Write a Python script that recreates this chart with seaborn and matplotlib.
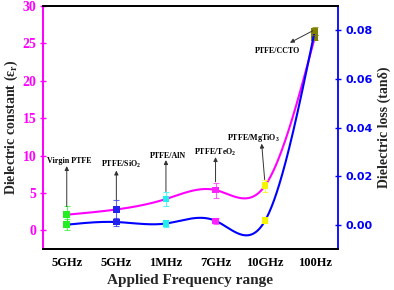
import numpy as np
import pandas as pd
import matplotlib
matplotlib.use("Agg")
import matplotlib.pyplot as plt
import seaborn as sns

sns.set_style("white")
plt.rcParams['font.family'] = ['Liberation Serif', 'DejaVu Serif']
plt.rcParams['font.weight'] = 'bold'
plt.rcParams['mathtext.fontset'] = 'custom'
plt.rcParams['mathtext.rm'] = 'Liberation Serif:bold'
plt.rcParams['mathtext.it'] = 'Liberation Serif:italic:bold'
plt.rcParams['mathtext.default'] = 'regular'

# ---- data ----
freq_labels = ["5GHz", "5GHz", "1MHz", "7GHz", "10GHz", "100Hz"]
materials = ["Virgin PTFE", "PTFE/SiO$_2$", "PTFE/AlN", "PTFE/TeO$_2$",
             "PTFE/MgTiO$_3$", "PTFE/CCTO"]
eps_r = [2.1, 2.8, 4.2, 5.4, 6.0, 25.8]
eps_err = [1.1, 1.3, 1.0, 1.0, 0.8, 0.4]
tan_d = [0.0002, 0.0013, 0.0007, 0.0018, 0.0019, 0.0796]
tan_err = [0.0022, 0.0018, 0.0014, 0.0012, 0.0012, 0.0016]
marker_colors = ["#22ee22", "#2222ee", "#22eeee", "#ff22ff", "#f5f500", "#808000"]

x = np.arange(len(freq_labels))
df = pd.DataFrame({"x": x, "eps": eps_r, "tan": tan_d, "mat": materials})


def natural_spline(xk, yk, n=300):
    xk = np.asarray(xk, float)
    yk = np.asarray(yk, float)
    m = len(xk)
    h = np.diff(xk)
    A = np.zeros((m, m))
    b = np.zeros(m)
    A[0, 0] = A[-1, -1] = 1
    for i in range(1, m - 1):
        A[i, i - 1] = h[i - 1]
        A[i, i] = 2 * (h[i - 1] + h[i])
        A[i, i + 1] = h[i]
        b[i] = 6 * ((yk[i + 1] - yk[i]) / h[i] - (yk[i] - yk[i - 1]) / h[i - 1])
    M = np.linalg.solve(A, b)
    xs = np.linspace(xk[0], xk[-1], n)
    idx = np.clip(np.searchsorted(xk, xs) - 1, 0, m - 2)
    x0, x1 = xk[idx], xk[idx + 1]
    hh = x1 - x0
    ys = (M[idx] * (x1 - xs) ** 3 / (6 * hh) + M[idx + 1] * (xs - x0) ** 3 / (6 * hh)
          + (yk[idx] / hh - M[idx] * hh / 6) * (x1 - xs)
          + (yk[idx + 1] / hh - M[idx + 1] * hh / 6) * (xs - x0))
    return xs, ys


fig = plt.figure(figsize=(3.94, 2.90), dpi=100)
ax = fig.add_axes([0.109, 0.141, 0.749, 0.838])
ax2 = ax.twinx()

MAG = "#ff00ff"
BLU = "#0000ff"

# dielectric constant
xs, ys = natural_spline(x, eps_r)
ax.plot(xs, ys, color=MAG, lw=1.5, zorder=2)
for i in range(len(x)):
    ax.errorbar(x[i], eps_r[i], yerr=eps_err[i], fmt='none', ecolor=marker_colors[i],
                elinewidth=0.8, capsize=2.5, capthick=0.8, alpha=0.7, zorder=3)
sns.scatterplot(data=df, x="x", y="eps", hue="mat", palette=marker_colors, marker="s",
                s=22, edgecolor="none", legend=False, ax=ax, zorder=4)

# dielectric loss
xs2, ys2 = natural_spline(x, tan_d)
ax2.plot(xs2, ys2, color=BLU, lw=1.5, zorder=2)
for i in range(len(x)):
    ax2.errorbar(x[i], tan_d[i], yerr=tan_err[i], fmt='none', ecolor=marker_colors[i],
                 elinewidth=0.8, capsize=2.5, capthick=0.8, alpha=0.7, zorder=3)
sns.scatterplot(data=df, x="x", y="tan", hue="mat", palette=marker_colors, marker="s",
                s=22, edgecolor="none", legend=False, ax=ax2, zorder=4)

ax.set_xlim(-0.48, 5.47)
ax.set_ylim(-2.5, 30)
ax2.set_ylim(-0.0098, 0.0898)
ax.set_xticks(x)
ax.set_xticklabels(freq_labels, fontsize=9, fontweight='bold')
ax.set_yticks([0, 5, 10, 15, 20, 25, 30])
ax.set_yticklabels(["0", "5", "10", "15", "20", "25", "30"], fontsize=10, fontweight='bold', color=MAG)
ax2.set_yticks([0.0, 0.02, 0.04, 0.06, 0.08])
ax2.set_yticklabels(["0.00", "0.02", "0.04", "0.06", "0.08"], fontsize=8,
                    fontweight='bold', color=BLU, family='DejaVu Sans')

ax.set_xlabel("Applied Frequency range", fontsize=11, fontweight='bold', labelpad=4)
ax.set_ylabel("Dielectric constant (ε$_r$)", fontsize=10, fontweight='bold', labelpad=2)
ax2.set_ylabel("Dielectric loss (tanδ)", fontsize=10, fontweight='bold', labelpad=3)

ax.tick_params(axis='y', colors=MAG, direction='inout', length=5, width=1, pad=2)
ax.tick_params(axis='x', colors='black', direction='inout', length=5, width=1, pad=3)
ax2.tick_params(axis='y', colors=BLU, direction='inout', length=5, width=1, pad=3)
for t in ax.get_xticklabels():
    t.set_color('black')

for a in (ax, ax2):
    for s in a.spines.values():
        s.set_linewidth(1.3)
        s.set_color('black')
ax2.spines['left'].set_color(MAG)
ax2.spines['right'].set_color(BLU)
ax.spines['left'].set_color(MAG)
ax.spines['right'].set_visible(False)

# annotations (data coords of the left axis)
ann_text = [(0.06, 9.3), (1.09, 8.8), (2.04, 10.0), (3.0, 10.4), (3.77, 12.4), (4.25, 24.0)]
ann_tail = [(0.0, 3.2), (1.0, 4.1), (2.0, 5.2), (3.0, 6.5), (3.99, 6.8), (4.96, 26.7)]
ann_head = [(0.0, 8.6), (1.0, 8.0), (2.0, 9.4), (3.0, 9.8), (3.93, 11.6), (4.5, 25.1)]
for txt, tp, tl, hd in zip(materials, ann_text, ann_tail, ann_head):
    ax2.annotate("", xy=hd, xytext=tl, xycoords=ax.transData, textcoords=ax.transData,
                 arrowprops=dict(arrowstyle='-|>', color='#333333', lw=0.7,
                                 mutation_scale=6, shrinkA=0, shrinkB=0), zorder=5)
    ax2.text(tp[0], tp[1], txt, transform=ax.transData, ha='center', va='center',
             fontsize=5.8, fontweight='bold', color='black', zorder=6)

fig.savefig("out.png", dpi=100)
